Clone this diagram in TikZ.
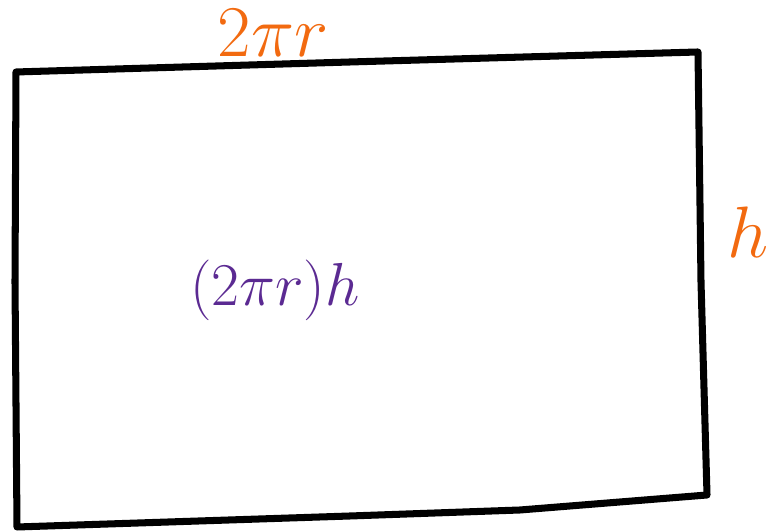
\documentclass[tikz,border=0pt]{standalone}
\usepackage{xcolor}
\usetikzlibrary{positioning}
\definecolor{penorange}{HTML}{F26A10}
\definecolor{penpurple}{HTML}{5B2A92}
\tikzset{edge/.style={line width=2pt, line join=round, line cap=round}, lbl/.style={font=\fontsize{20}{22}\selectfont, text=penorange}, area/.style={font=\fontsize{19}{22}\selectfont, text=penpurple}}
\begin{document}
\begin{tikzpicture}
\useasboundingbox (0,0) rectangle (7.71,5.32);
\coordinate (tl) at (0.16,4.60); \coordinate (tr) at (6.98,4.80);
\coordinate (br) at (7.07,0.37); \coordinate (bl) at (0.17,0.05);
\draw[edge] (tl)--(3.5,4.70)--(tr)--(7.01,2.5)--(br)--(5.2,0.22)--(3.5,0.16)--(bl)--(0.15,2.5)--cycle;
\node[lbl] (circ) at (2.73,4.99) {$2\pi r$};
\node[lbl, inner sep=1pt] (height) at (7.48,3.00) {$h$};
\node[area] (prod) at (2.75,2.42) {$(2\pi r)h$};
\end{tikzpicture}
\end{document}
